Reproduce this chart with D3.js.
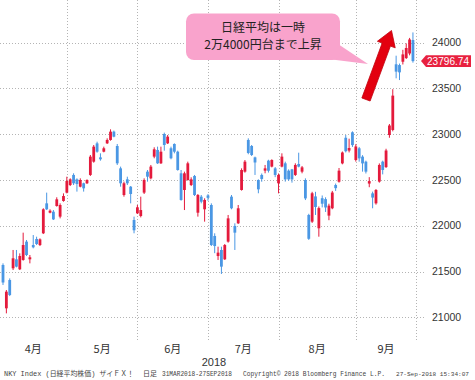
<!DOCTYPE html>
<html>
<head>
<meta charset="utf-8">
<script src="https://cdn.jsdelivr.net/npm/d3@7"></script>
<style>
  body { margin: 0; background: #fff; }
  svg { display: block; }
</style>
</head>
<body>
<svg id="chart" width="475" height="380"></svg>
<script>
// trading days, 31MAR2018-27SEP2018
const dates = [
  "04-02","04-03","04-04","04-05","04-06","04-09","04-10","04-11","04-12","04-13",
  "04-16","04-17","04-18","04-19","04-20","04-23","04-24","04-25","04-26","04-27",
  "05-01","05-02","05-07","05-08","05-09","05-10","05-11","05-14","05-15","05-16",
  "05-17","05-18","05-21","05-22","05-23","05-24","05-25","05-28","05-29","05-30","05-31",
  "06-01","06-04","06-05","06-06","06-07","06-08","06-11","06-12","06-13","06-14",
  "06-15","06-18","06-19","06-20","06-21","06-22","06-25","06-26","06-27","06-28","06-29",
  "07-02","07-03","07-04","07-05","07-06","07-09","07-10","07-11","07-12","07-13",
  "07-17","07-18","07-19","07-20","07-23","07-24","07-25","07-26","07-27","07-30","07-31",
  "08-01","08-02","08-03","08-06","08-07","08-08","08-09","08-10","08-13","08-14",
  "08-15","08-16","08-17","08-20","08-21","08-22","08-23","08-24","08-27","08-28",
  "08-29","08-30","08-31",
  "09-03","09-04","09-05","09-06","09-07","09-10","09-11","09-12","09-13","09-14",
  "09-18","09-19","09-20","09-21","09-25","09-26","09-27"
];

const open = [
  21571,21098,21407,21535,21633,21524,21626,21826,21633,21789,
  21855,21789,21917,22244,22142,22153,22215,22099,22270,22361,
  22444,22554,22506,22426,22463,22463,22554,22699,22899,22746,
  22808,22899,22936,23027,22870,22626,22335,22506,22426,22062,22135,
  22106,22361,22590,22517,22754,22827,22681,23001,22899,22845,
  22892,22808,22572,22390,22499,22444,22543,22142,22317,22179,22330,
  22226,21888,21669,21735,21633,21826,22317,21997,22026,22390,
  22590,22936,22870,22746,22499,22554,22601,22710,22645,22626,22463,
  22645,22681,22601,22615,22554,22674,22590,22499,22117,22044,
  22320,21972,22300,22290,22110,22190,22444,22480,22680,22960,
  22820,23020,22717,
  22845,22754,22699,22460,22353,22244,22481,22699,22640,22990,
  23045,23762,23754,23790,23830,23880,24027
];
const high = [
  21589,21298,21425,21735,21735,21698,21924,21844,21680,21898,
  21880,21862,22190,22361,22179,22171,22310,22244,22353,22535,
  22517,22572,22517,22517,22470,22506,22772,22881,22917,22790,
  22863,22954,23052,23038,22892,22645,22481,22535,22433,22099,22226,
  22317,22517,22608,22663,22856,22863,22863,23016,22990,22863,
  22899,22819,22608,22590,22699,22528,22554,22346,22335,22299,22345,
  22244,21917,21771,21771,21800,22117,22335,22026,22226,22626,
  22717,22954,22881,22754,22506,22570,22663,22720,22725,22640,22570,
  22790,22699,22615,22620,22681,22797,22652,22517,22130,22370,
  22370,22210,22330,22310,22240,22380,22460,22630,22810,22990,
  22950,23030,22890,
  22860,22770,22710,22530,22372,22400,22680,22710,22840,23110,
  23490,23856,23770,23920,23990,24050,24110
];
const low = [
  21353,21043,21232,21516,21545,21516,21618,21669,21589,21753,
  21789,21778,21909,22171,22135,22062,22208,22080,22262,22353,
  22433,22444,22372,22419,22372,22455,22543,22688,22797,22710,
  22801,22892,22928,22965,22663,22426,22317,22444,22244,21917,22128,
  22091,22346,22481,22506,22736,22674,22674,22819,22892,22725,
  22790,22601,22273,22171,22492,22433,22324,22099,22244,22044,22273,
  21778,21700,21626,21473,21626,21815,22179,21735,22019,22383,
  22579,22780,22761,22554,22354,22480,22572,22580,22637,22530,22353,
  22637,22481,22490,22470,22543,22637,22572,22280,21845,22030,
  22117,21880,22200,22150,22060,22180,22380,22470,22670,22800,
  22800,22860,22700,
  22699,22590,22570,22420,22190,22230,22470,22560,22630,22960,
  23030,23609,23590,23760,23820,23860,23780
];
const close = [
  21380,21280,21243,21644,21553,21669,21789,21680,21655,21764,
  21800,21851,22179,22179,22164,22069,22288,22226,22324,22488,
  22506,22463,22455,22499,22408,22499,22754,22863,22808,22725,
  22845,22936,23027,22972,22681,22463,22463,22463,22346,21950,22201,
  22171,22499,22535,22645,22834,22681,22808,22881,22972,22736,
  22808,22608,22281,22572,22681,22506,22335,22335,22262,22281,22304,
  21789,21778,21706,21553,21789,22080,22190,21924,22190,22608,
  22699,22794,22772,22690,22397,22510,22626,22600,22717,22554,22554,
  22754,22506,22506,22506,22663,22645,22637,22298,21857,22354,
  22204,22192,22240,22199,22219,22362,22410,22601,22799,22813,
  22848,22880,22865,
  22735,22680,22590,22487,22307,22390,22663,22608,22821,23094,
  23420,23682,23674,23870,23940,24033,23796.74
];

const yTicks = [21000, 21500, 22000, 22500, 23000, 23500, 24000];
const monthLabels = ["4月", "5月", "6月", "7月", "8月", "9月"];
const yearLabel = "2018";
const calloutLines = ["日経平均は一時", "2万4000円台まで上昇"];

const svg = d3.select("#chart");

const x = d3.scaleLinear().domain([0, dates.length]).range([3, 416.3]);
const y = d3.scaleLinear().domain([21000, 24000]).range([317.3, 42.5]);

const red = "#e41a3c";
const blue = "#4a97e4";

// month boundaries: gridline sits on the last day of previous month
const monthStart = [];
dates.forEach((d, i) => {
  if (i === 0 || d.slice(0, 2) !== dates[i - 1].slice(0, 2)) monthStart.push(i);
});
const gridIdx = monthStart.map(i => i - 1).concat([dates.length]);

const grid = svg.append("g")
  .attr("stroke", "#b4b4b4")
  .attr("stroke-width", 1)
  .attr("stroke-dasharray", "1,2");

grid.selectAll("line.h")
  .data(yTicks)
  .enter()
  .append("line")
  .attr("x1", 0)
  .attr("x2", 426)
  .attr("y1", d => Math.round(y(d)) + 0.5)
  .attr("y2", d => Math.round(y(d)) + 0.5);

grid.selectAll("line.v")
  .data(gridIdx.slice(1))
  .enter()
  .append("line")
  .attr("x1", d => Math.round(x(d)) + 0.5)
  .attr("x2", d => Math.round(x(d)) + 0.5)
  .attr("y1", 0)
  .attr("y2", 340);

// y labels
svg.append("g")
  .selectAll("text")
  .data(yTicks)
  .enter()
  .append("text")
  .attr("x", 432)
  .attr("y", d => y(d))
  .attr("dy", "0.35em")
  .attr("font-family", "Liberation Sans, Arial, sans-serif")
  .attr("font-size", 10.5)
  .attr("fill", "#333")
  .text(d => d);

// month labels
svg.append("g")
  .selectAll("text")
  .data(monthLabels)
  .enter()
  .append("text")
  .attr("x", (d, i) => (x(gridIdx[i]) + x(gridIdx[i + 1])) / 2)
  .attr("y", 353)
  .attr("text-anchor", "middle")
  .attr("font-family", "Noto Sans CJK JP, sans-serif")
  .attr("font-size", 11)
  .attr("fill", "#333")
  .text(d => d);

svg.append("text")
  .attr("x", 214)
  .attr("y", 366)
  .attr("text-anchor", "middle")
  .attr("font-family", "Liberation Sans, Arial, sans-serif")
  .attr("font-size", 11)
  .attr("fill", "#333")
  .text(yearLabel);

// candles
const candles = svg.append("g")
  .selectAll("g")
  .data(dates.map((d, i) => ({ d, i, o: open[i], h: high[i], l: low[i], c: close[i] })))
  .enter()
  .append("g")
  .attr("fill", d => d.c >= d.o ? red : blue)
  .attr("stroke", d => d.c >= d.o ? red : blue);

candles.append("line")
  .attr("x1", d => x(d.i))
  .attr("x2", d => x(d.i))
  .attr("y1", d => y(d.h))
  .attr("y2", d => y(d.l))
  .attr("stroke-width", 1);

candles.append("rect")
  .attr("x", d => x(d.i) - 1.4)
  .attr("width", 2.8)
  .attr("y", d => y(Math.max(d.o, d.c)))
  .attr("height", d => Math.max(1, Math.abs(y(d.o) - y(d.c))))
  .attr("stroke", "none");

// last price tag
const last = close[close.length - 1];
const ly = y(last);
svg.append("path")
  .attr("d", `M421,${ly} L426,${ly - 5.8} L471,${ly - 5.8} L471,${ly + 5.8} L426,${ly + 5.8} Z`)
  .attr("fill", "#e8213f");
svg.append("text")
  .attr("x", 427)
  .attr("y", ly)
  .attr("dy", "0.36em")
  .attr("textLength", 42)
  .attr("lengthAdjust", "spacingAndGlyphs")
  .attr("font-family", "Liberation Sans, Arial, sans-serif")
  .attr("font-size", 10.5)
  .attr("fill", "#fff")
  .text(last.toFixed(2));

// red arrow
const a0 = [366, 99.5], a1 = [391.5, 30.5];
const len = Math.hypot(a1[0] - a0[0], a1[1] - a0[1]);
const u = [(a1[0] - a0[0]) / len, (a1[1] - a0[1]) / len];
const n = [-u[1], u[0]];
const sw = 4.4, hw = 9.5, hl = 15;
const pt = (t, s) => [a0[0] + u[0] * t + n[0] * s, a0[1] + u[1] * t + n[1] * s];
const arrowPts = [pt(0, -sw), pt(len - hl, -sw), pt(len - hl, -hw), pt(len, 0),
  pt(len - hl, hw), pt(len - hl, sw), pt(0, sw)];
svg.append("polygon")
  .attr("points", arrowPts.map(p => p.join(",")).join(" "))
  .attr("fill", "#e3000f")
  .attr("stroke", "#c2000c")
  .attr("stroke-width", 0.8);

// callout
svg.append("polygon")
  .attr("points", "328,59 338,44 368,64")
  .attr("fill", "#f9a3cc");
svg.append("rect")
  .attr("x", 186)
  .attr("y", 13.5)
  .attr("width", 154)
  .attr("height", 46.5)
  .attr("rx", 8)
  .attr("fill", "#f9a3cc");
svg.append("g")
  .selectAll("text")
  .data(calloutLines)
  .enter()
  .append("text")
  .attr("x", 263)
  .attr("y", (d, i) => 28 + i * 17)
  .attr("dy", "0.35em")
  .attr("text-anchor", "middle")
  .attr("font-family", "Noto Sans CJK JP, sans-serif")
  .attr("font-size", 12)
  .attr("fill", "#222")
  .text(d => d);

// footer
const footer = [
  { t: "NKY Index (日経平均株価) ザイＦＸ！", x: 4, w: 130, s: 7 },
  { t: "日足", x: 143, w: 14, s: 7 },
  { t: "31MAR2018-27SEP2018", x: 162, w: 70, s: 7 },
  { t: "Copyright© 2018 Bloomberg Finance L.P.", x: 243, w: 142, s: 7 },
  { t: "27-Sep-2018 15:34:07", x: 396, w: 73, s: 6.1 }
];
svg.append("g")
  .selectAll("text")
  .data(footer)
  .enter()
  .append("text")
  .attr("x", d => d.x)
  .attr("y", 375.5)
  .attr("textLength", d => d.w)
  .attr("lengthAdjust", "spacingAndGlyphs")
  .attr("font-family", "Liberation Mono, Noto Sans CJK JP, monospace")
  .attr("font-size", d => d.s)
  .attr("fill", "#444")
  .text(d => d.t);
</script>
</body>
</html>
